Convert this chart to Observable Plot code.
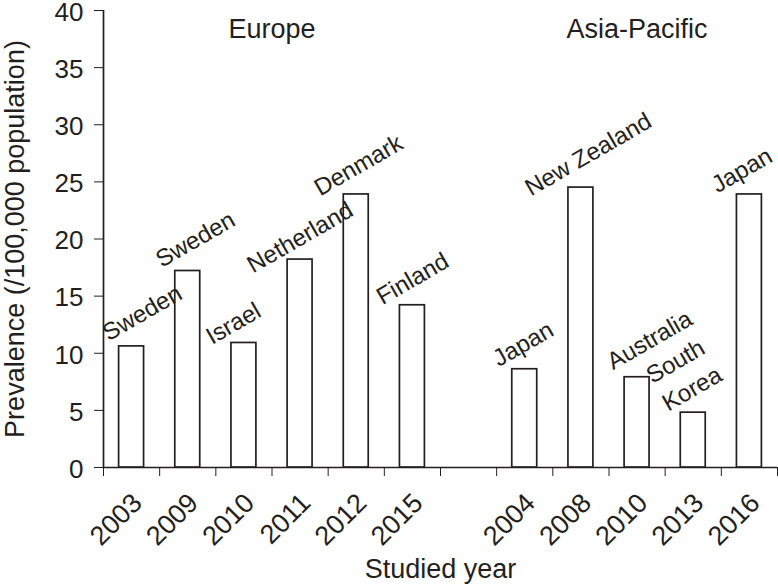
<!DOCTYPE html>
<html>
<head>
<meta charset="utf-8">
<script src="https://cdn.jsdelivr.net/npm/d3@7"></script>
<script src="https://cdn.jsdelivr.net/npm/@observablehq/plot@0.6"></script>
<style>
  html, body { margin: 0; padding: 0; background: #fff; }
  #chart { width: 778px; height: 586px; }
</style>
</head>
<body>
<div id="chart"></div>
<script>
// ---- Data ----
const regions = ["Europe", "Asia-Pacific"];
const europeYears = ["2003", "2009", "2010", "2011", "2012", "2015"];
const europeCountries = ["Sweden", "Sweden", "Israel", "Netherland", "Denmark", "Finland"];
const europeValues = [10.6, 17.2, 10.9, 18.2, 23.9, 14.2];
const asiaYears = ["2004", "2008", "2010", "2013", "2016"];
const asiaCountries = ["Japan", "New Zealand", "Australia", "South\nKorea", "Japan"];
const asiaValues = [8.6, 24.5, 7.9, 4.8, 23.9];
const yTicks = [0, 5, 10, 15, 20, 25, 30, 35, 40];
const yLabel = "Prevalence (/100,000 population)";
const xLabel = "Studied year";

// ---- Build table (one empty slot between the two regions) ----
const rows = [];
europeYears.forEach((yr, k) => rows.push({slot: k, region: regions[0], year: yr, country: europeCountries[k], value: europeValues[k]}));
const gap = europeYears.length; // empty slot
asiaYears.forEach((yr, k) => rows.push({slot: gap + 1 + k, region: regions[1], year: yr, country: asiaCountries[k], value: asiaValues[k]}));
const nSlots = europeYears.length + 1 + asiaYears.length;
const boundaries = d3.range(nSlots + 1);

const regionTitles = regions.map(r => {
  const s = rows.filter(d => d.region === r).map(d => d.slot + 0.5);
  return {region: r, x: (d3.min(s) + d3.max(s)) / 2};
});

// label layout nudges (annotation placement, pixels)
const nudge = {
  0: [-23, -5], 1: [-26, -3], 2: [-32, 2], 3: [-47, 14], 4: [-36, 2], 5: [-30, 0],
  7: [-26, -2], 8: [-50, 9], 9: [-24, -7], 10: [-25, -1], 11: [-32, -1]
};

const ink = "#231f20";
const font = "Liberation Sans, Arial, Helvetica, sans-serif";

const plot = Plot.plot({
  width: 778,
  height: 586,
  marginLeft: 103,
  marginRight: 1,
  marginTop: 10,
  marginBottom: 119,
  style: {fontFamily: font, fontSize: "27px", color: ink, background: "#fff"},
  x: {type: "linear", domain: [0, nSlots], ticks: boundaries, tickSize: 9, tickFormat: () => "", label: null},
  y: {domain: [0, 40], ticks: yTicks, tickSize: 9, tickFormat: () => "", label: null},
  marks: [
    Plot.ruleX([0], {stroke: ink, strokeWidth: 1.7}),
    Plot.ruleY([0], {stroke: ink, strokeWidth: 1.7}),
    Plot.rectY(rows, {
      x1: d => d.slot, x2: d => d.slot + 1, y: "value",
      insetLeft: 15.6, insetRight: 15.6,
      fill: "white", stroke: ink, strokeWidth: 1.7
    }),
    // y tick labels
    Plot.text(yTicks, {
      y: d => d, text: d => String(d), frameAnchor: "left", textAnchor: "end",
      dx: -20, dy: 2, fontSize: 26, fill: ink
    }),
    // bar labels
    ...rows.map(d => Plot.text([d], {
      x: r => r.slot + 0.5, y: "value", text: "country",
      rotate: -30, textAnchor: "start", lineAnchor: "bottom", lineHeight: 1.33,
      dx: nudge[d.slot][0], dy: nudge[d.slot][1],
      fontSize: 24, fill: ink
    })),
    // x tick labels (years)
    Plot.text(rows, {
      x: d => d.slot + 0.5, y: () => 0, text: "year",
      rotate: -45, textAnchor: "end", lineAnchor: "bottom",
      dx: 12, dy: 37, fontSize: 27, fill: ink
    }),
    // region titles
    Plot.text(regionTitles, {
      x: "x", text: "region", frameAnchor: "top", lineAnchor: "bottom",
      dy: 27, fontSize: 27, fill: ink
    }),
    // axis titles
    Plot.text([xLabel], {frameAnchor: "bottom", lineAnchor: "bottom", dy: 110, fontSize: 27, fill: ink}),
    Plot.text([yLabel], {frameAnchor: "left", textAnchor: "middle", lineAnchor: "bottom", rotate: -90, dx: -80, fontSize: 27, fill: ink})
  ]
});
document.getElementById("chart").appendChild(plot);
</script>
</body>
</html>
